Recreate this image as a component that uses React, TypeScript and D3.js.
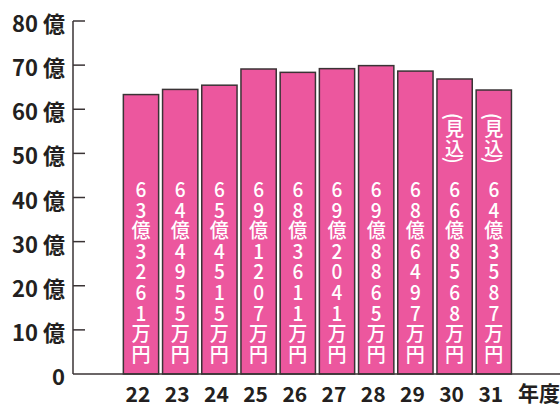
import React, { useEffect, useRef } from 'react';
import * as d3 from 'd3';

// 年度ごとの金額（単位: 万円）
const years = ['22', '23', '24', '25', '26', '27', '28', '29', '30', '31'];
const amountsMan = [633261, 644955, 654515, 691207, 683611, 692041, 698865, 686497, 668568, 643587];
const estimated = [false, false, false, false, false, false, false, false, true, true];
const yTicks = [0, 10, 20, 30, 40, 50, 60, 70, 80];
const unitLabel = '年度';

const App = () => {
    const svgRef = useRef<SVGSVGElement>(null);

    useEffect(() => {
        const width = 560;
        const height = 405;
        const axisX = 73;
        const jp = '"Noto Sans CJK JP", "Noto Sans", sans-serif';

        const svg = d3.select(svgRef.current);
        svg.selectAll('*').remove();
        svg.attr('width', width).attr('height', height);

        // scales
        const x = d3.scaleBand<string>()
            .domain([...years, unitLabel])
            .range([121.4, 552.6])
            .paddingInner(0.1)
            .paddingOuter(0.05);

        const y = d3.scaleLinear()
            .domain([0, 80])
            .range([374, 21]);

        // bars
        const bars = svg.append('g');
        years.forEach((yr, i) => {
            const oku = amountsMan[i] / 10000;
            bars.append('rect')
                .attr('x', x(yr)!)
                .attr('y', y(oku))
                .attr('width', x.bandwidth())
                .attr('height', y(0) - y(oku))
                .attr('fill', '#ec579e')
                .attr('stroke', '#3a3335')
                .attr('stroke-width', 1.5);
        });

        // vertical labels in bars
        const step = 20.6;
        const cx = (yr: string) => x(yr)! + x.bandwidth() / 2;
        years.forEach((yr, i) => {
            const oku = Math.floor(amountsMan[i] / 10000);
            const man = String(amountsMan[i] % 10000).padStart(4, '0');
            const chars = [...String(oku), '億', ...man, '万', '円'];
            const n = chars.length;
            const lastY = y(0) - 21;
            const firstY = lastY - (n - 1) * step;
            chars.forEach((c, j) => {
                bars.append('text')
                    .attr('transform', `translate(${cx(yr)},${lastY - (n - 1 - j) * step}) scale(1.03,1.1)`)
                    .attr('text-anchor', 'middle')
                    .attr('dominant-baseline', 'central')
                    .attr('fill', '#ffffff')
                    .attr('font-family', jp)
                    .attr('font-weight', 500)
                    .attr('font-size', 18.5)
                    .text(c);
            });

            if (estimated[i]) {
                const est = [
                    { c: '(', dy: -72, rot: true },
                    { c: '見', dy: -60, rot: false },
                    { c: '込', dy: -40, rot: false },
                    { c: ')', dy: -28, rot: true }
                ];
                est.forEach(e => {
                    bars.append('text')
                        .attr('transform', `translate(${cx(yr)},${firstY + e.dy})${e.rot ? ' rotate(90)' : ' scale(1.03,1.05)'}`)
                        .attr('text-anchor', 'middle')
                        .attr('dominant-baseline', 'central')
                        .attr('fill', '#ffffff')
                        .attr('font-family', jp)
                        .attr('font-weight', 500)
                        .attr('font-size', e.rot ? 20 : 18.5)
                        .text(e.c);
                });
            }
        });

        // axes
        const axisColor = '#3a3335';
        svg.append('line')
            .attr('x1', axisX).attr('x2', axisX)
            .attr('y1', y(80)).attr('y2', y(0))
            .attr('stroke', axisColor).attr('stroke-width', 1.5);
        svg.append('line')
            .attr('x1', axisX).attr('x2', width)
            .attr('y1', y(0)).attr('y2', y(0))
            .attr('stroke', axisColor).attr('stroke-width', 1.5);

        yTicks.filter(t => t > 0).forEach(t => {
            svg.append('line')
                .attr('x1', axisX).attr('x2', axisX + 12)
                .attr('y1', y(t)).attr('y2', y(t))
                .attr('stroke', axisColor).attr('stroke-width', 1.5);
        });

        yTicks.forEach(t => {
            svg.append('text')
                .attr('x', 65)
                .attr('y', y(t) + 1)
                .attr('text-anchor', 'end')
                .attr('dominant-baseline', 'central')
                .attr('fill', '#231f20')
                .attr('font-family', jp)
                .attr('font-weight', 700)
                .attr('font-size', 22)
                .text(t === 0 ? '0' : `${t} 億`);
        });

        years.forEach(yr => {
            svg.append('text')
                .attr('x', cx(yr) - 3)
                .attr('y', 392.5)
                .attr('text-anchor', 'middle')
                .attr('dominant-baseline', 'central')
                .attr('fill', '#231f20')
                .attr('font-family', jp)
                .attr('font-weight', 700)
                .attr('font-size', 21)
                .text(yr);
        });

        svg.append('text')
            .attr('x', cx(unitLabel) + 6)
            .attr('y', 392)
            .attr('text-anchor', 'middle')
            .attr('dominant-baseline', 'central')
            .attr('fill', '#231f20')
            .attr('font-family', jp)
            .attr('font-weight', 700)
            .attr('font-size', 21)
            .text(unitLabel);
    }, []);

    return (
        <svg ref={svgRef} style={{ position: 'absolute', left: 0, top: 0, display: 'block', background: '#fff' }}></svg>
    );
};

export default App;
